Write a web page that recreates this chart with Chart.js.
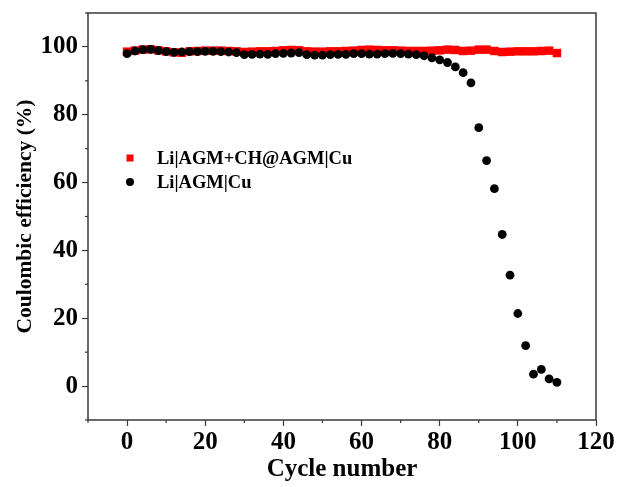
<!doctype html>
<html lang="en">
<head>
  <meta charset="utf-8" />
  <title>Coulombic efficiency</title>
  <script src="https://cdn.jsdelivr.net/npm/chart.js"></script>
  <style>
    html, body { margin: 0; padding: 0; background: #fff; }
    .box { width: 620px; height: 487px; }
  </style>
</head>
<body>
  <div class="box"><canvas id="ce"></canvas></div>
  <script>
    // cycle numbers (every 2nd cycle plotted)
    const cycles = [0, 2, 4, 6, 8, 10, 12, 14, 16, 18, 20, 22, 24, 26, 28, 30, 32, 34, 36, 38,
      40, 42, 44, 46, 48, 50, 52, 54, 56, 58, 60, 62, 64, 66, 68, 70, 72, 74, 76, 78,
      80, 82, 84, 86, 88, 90, 92, 94, 96, 98, 100, 102, 104, 106, 108, 110];

    const ceModified = [98.6, 98.9, 99.2, 99.3, 99.0, 98.7, 98.4, 98.3, 98.7, 98.8,
      98.9, 98.9, 98.9, 98.8, 98.7, 98.5, 98.6, 98.7, 98.7, 98.8,
      99.0, 99.1, 99.0, 98.7, 98.6, 98.6, 98.7, 98.7, 98.8, 98.9,
      99.1, 99.2, 99.1, 99.0, 99.0, 98.9, 98.8, 98.8, 98.8, 98.9,
      99.0, 99.2, 99.1, 98.8, 98.9, 99.2, 99.2, 98.8, 98.5, 98.6,
      98.7, 98.7, 98.7, 98.8, 98.9, 98.2];

    const ceBare = [98.0, 98.8, 99.2, 99.3, 98.9, 98.6, 98.4, 98.5, 98.6, 98.6,
      98.7, 98.7, 98.6, 98.5, 98.3, 97.7, 97.8, 97.9, 97.8, 98.0,
      98.1, 98.2, 98.3, 97.7, 97.6, 97.6, 97.7, 97.8, 97.8, 98.0,
      98.0, 97.9, 97.9, 98.0, 98.1, 98.0, 97.9, 97.7, 97.4, 96.8,
      96.2, 95.4, 94.1, 92.4, 89.4, 76.2, 66.5, 58.2, 44.7, 32.7,
      21.4, 11.9, 3.5, 4.9, 2.1, 1.1];

    const seriesNames = ['Li|AGM+CH@AGM|Cu', 'Li|AGM|Cu'];

    const FONT = 'Liberation Serif, Times New Roman, serif';
    const AXIS = '#3a3a3a';

    const toPoints = (xs, ys) => xs.map((x, i) => ({ x, y: ys[i] }));

    // frame, minor ticks and the inset legend
    const decor = {
      id: 'decor',
      afterDraw(chart) {
        const { ctx, chartArea: a, scales } = chart;
        ctx.save();
        ctx.strokeStyle = AXIS;
        ctx.lineWidth = 1.5;
        ctx.strokeRect(a.left, a.top, a.right - a.left, a.bottom - a.top);

        ctx.lineWidth = 1.2;
        scales.x.ticks.forEach(t => {
          if (t.value % 20 === 0) return;
          const px = scales.x.getPixelForValue(t.value);
          ctx.beginPath(); ctx.moveTo(px, a.bottom); ctx.lineTo(px, a.bottom + 3); ctx.stroke();
        });
        scales.y.ticks.forEach(t => {
          if (t.value % 20 === 0) return;
          const py = scales.y.getPixelForValue(t.value);
          ctx.beginPath(); ctx.moveTo(a.left, py); ctx.lineTo(a.left - 3, py); ctx.stroke();
        });

        // legend
        ctx.font = 'bold 18.5px ' + FONT;
        ctx.textBaseline = 'middle';
        const rows = [158, 182];
        chart.data.datasets.forEach((ds, i) => {
          const y = rows[i];
          ctx.fillStyle = ds.backgroundColor;
          if (ds.pointStyle === 'rect') {
            ctx.fillRect(126.5, y - 3.5, 7, 7);
          } else {
            ctx.beginPath(); ctx.arc(130, y, 4, 0, Math.PI * 2); ctx.fill();
          }
          ctx.fillStyle = '#000';
          ctx.fillText(ds.label, 157, y + 1);
        });
        ctx.restore();
      }
    };

    new Chart(document.getElementById('ce'), {
      type: 'scatter',
      data: {
        datasets: [
          {
            label: seriesNames[0],
            data: toPoints(cycles, ceModified),
            order: 2,
            pointStyle: 'rect',
            pointRadius: 6,
            backgroundColor: '#ff0000',
            borderColor: '#ff0000',
            borderWidth: 0
          },
          {
            label: seriesNames[1],
            data: toPoints(cycles, ceBare),
            order: 1,
            pointStyle: 'circle',
            pointRadius: 4.4,
            backgroundColor: '#000000',
            borderColor: '#000000',
            borderWidth: 0
          }
        ]
      },
      options: {
        responsive: true,
        maintainAspectRatio: false,
        animation: false,
        events: [],
        layout: { padding: { top: 13, right: 24, left: 0, bottom: 0 } },
        plugins: { legend: { display: false }, tooltip: { enabled: false } },
        scales: {
          x: {
            type: 'linear',
            min: -10,
            max: 120,
            afterFit: s => { s.height = 67; },
            border: { display: false },
            grid: {
              drawOnChartArea: false,
              drawTicks: true,
              tickLength: 6,
              tickWidth: 1.2,
              tickColor: c => (c.tick && c.tick.value % 20 === 0) ? AXIS : 'rgba(0,0,0,0)'
            },
            ticks: {
              stepSize: 10,
              autoSkip: false,
              maxRotation: 0,
              padding: 2,
              color: '#000',
              font: { family: FONT, size: 25, weight: 'bold' },
              callback: v => (v % 20 === 0 ? v : '')
            },
            title: {
              display: true,
              text: 'Cycle number',
              color: '#000',
              padding: { top: 0, bottom: 2 },
              font: { family: FONT, size: 25, weight: 'bold' }
            }
          },
          y: {
            type: 'linear',
            min: -10,
            max: 110,
            afterFit: s => { s.width = 88; s.paddingTop = 0; s.paddingBottom = 0; },
            border: { display: false },
            grid: {
              drawOnChartArea: false,
              drawTicks: true,
              tickLength: 6,
              tickWidth: 1.2,
              tickColor: c => (c.tick && c.tick.value % 20 === 0) ? AXIS : 'rgba(0,0,0,0)'
            },
            ticks: {
              stepSize: 10,
              autoSkip: false,
              padding: 4,
              color: '#000',
              font: { family: FONT, size: 25, weight: 'bold' },
              callback: v => (v % 20 === 0 ? v : '')
            },
            title: {
              display: true,
              text: 'Coulombic efficiency (%)',
              color: '#000',
              padding: { top: 13, bottom: 0 },
              font: { family: FONT, size: 21.5, weight: 'bold' }
            }
          }
        }
      },
      plugins: [decor]
    });
  </script>
</body>
</html>
